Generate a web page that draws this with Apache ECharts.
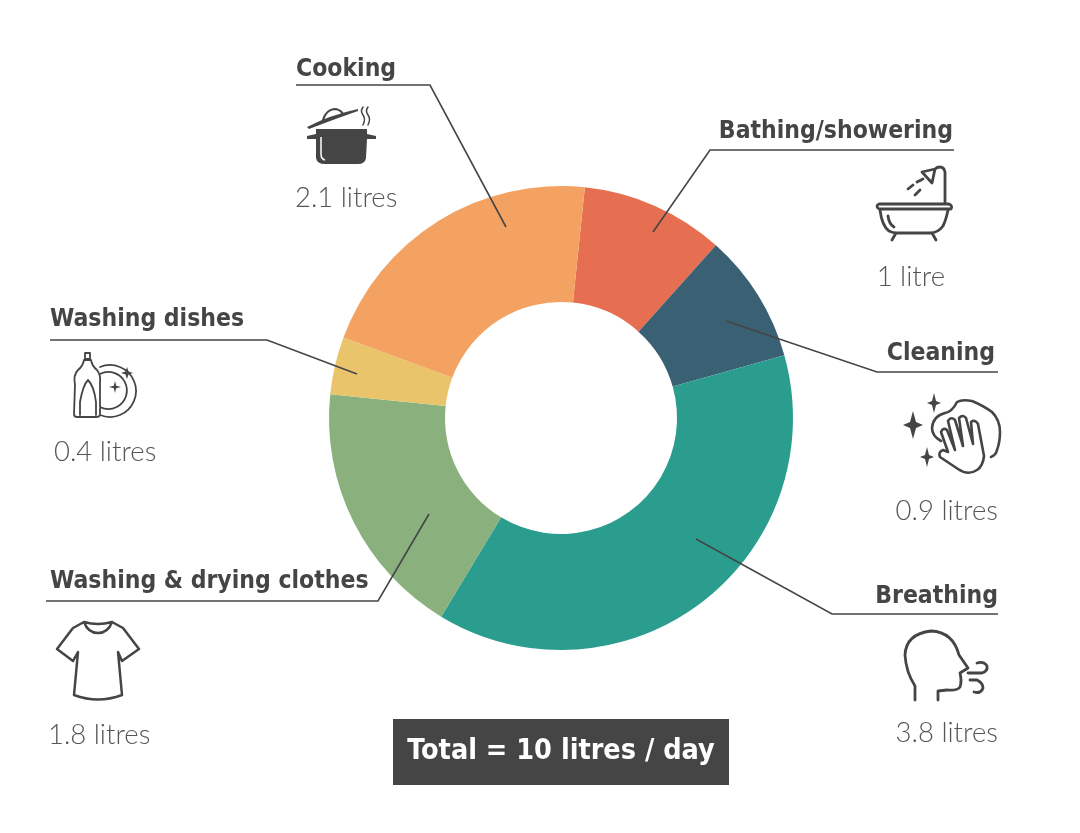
<!DOCTYPE html>
<html><head><meta charset="utf-8">
<style>html,body{margin:0;padding:0;background:#fff}#c{width:1080px;height:833px}</style>
<script src="https://cdn.jsdelivr.net/npm/echarts@6/dist/echarts.min.js"></script>
</head><body><div id="c"></div>
<script>
const categories = ['Bathing/showering','Cleaning','Breathing','Washing & drying clothes','Washing dishes','Cooking'];
const litres = [1, 0.9, 3.8, 1.8, 0.4, 2.1];
const sliceColors = ['#E76F51','#3A6073','#2A9D8F','#8AB17D','#E9C46A','#F4A261'];
const totalText = 'Total = 10 litres / day';

const INK = '#454545';
const TITLE_FONT = '"DejaVu Sans Condensed","DejaVu Sans",sans-serif';
const VALUE_FONT = 'Lato, "Open Sans", sans-serif';

const annotations = [
 {tx:953,ty:132,ta:'right',vx:945,vy:277,va:'right',line:[[954,150],[710,150],[653,232]]},
 {tx:995,ty:354,ta:'right',vx:998,vy:511,va:'right',line:[[998,372],[877,372],[726,321]]},
 {tx:998,ty:597,ta:'right',vx:998,vy:733,va:'right',line:[[998,614],[832,614],[696,539]]},
 {tx:50,ty:582,ta:'left',vx:48,vy:735,va:'left',line:[[46,601],[378,601],[429,514]]},
 {tx:50,ty:320,ta:'left',vx:54,vy:452,va:'left',line:[[50,340],[267,340],[357,374]]},
 {tx:296,ty:70,ta:'left',vx:295,vy:198,va:'left',line:[[296,85],[430,85],[506,227]]}
];

const strokeIcons = [
 // bath
 {w:2.8,d:'M879 204 L949 204 Q953 206 951 209 L879 209 Q875 206 879 204 Z M880 210 Q882 226 889 231 Q893 233 897 233 L930 233 Q938 233 943 226 Q946 220 948 210 M896 233 L892 240 M932 233 L936 240 M888 216 Q889 224 894 227 M945 204 L945 172 Q944 167 940 167 Q937 167 935 169 M922 172 L935 169 L932 183 Z M908 189 L913 185 M917 182 L923 179 M915 195 L920 190'},
 // cleaning cloth and hand
 {w:2.6,d:'M941 441 Q932 436 932 428 Q933 416 945 413 Q952 412 957 402 Q962 399 972 401 Q984 406 992 412 Q1000 420 1000 432 Q1000 442 997 450 Q996 455 991 457 M948 452 L943 450 Q938 452 940 457 L958 469 Q968 476 977 470 Q983 466 984 456 L978 424 Q975 419 971 422 L973 444 M973 444 L966 418 Q963 414 959 418 L963 446 M963 446 L955 420 Q951 416 948 421 L955 450 M955 450 L947 430 Q943 427 941 432 L948 452'},
 // head and breath
 {w:2.8,d:'M915 700 L915 686 Q906 672 905 655 Q906 634 931 631 Q953 632 959 655 L968 668 L960 673 Q962 681 960 687 Q957 691 947 690 L938 691 L938 700 M968 673 L982 673 Q988 671 987 666 Q984 661 977 663 M970 680 L977 680 Q983 683 983 688 Q981 694 974 692'},
 // bottle and plate
 {w:1.8,d:'M85 353 L90 353 L90 359 L85 359 Z M84 360 L91 360 Q92 366 97 370 Q101 375 100 383 L100 414 Q100 417 96 417 L77 417 Q74 417 74 414 L75 385 Q73 375 78 370 Q83 366 84 360 Z M80 415 L80 402 Q83 385 88 380 Q94 386 96 402 L96 415 M100 367 A26 26 0 1 1 100 415 M100 374 A18.5 18.5 0 1 1 100 407'},
 // t-shirt
 {w:2.5,d:'M84 622 L73 628 L57 649 L73 661 L78 652 L74 695 Q98 704 122 695 L118 652 L122 661 L139 649 L123 628 L112 622 Q98 626 84 622 Q88 633 98 633 Q108 633 112 622'},
 // steam and pot-lid dome
 {w:1.5,d:'M363 107 Q360 111 363 115 Q366 119 363 125 M368 107 Q365 111 368 115 Q371 119 368 125'},
 {w:2.2,d:'M323 120 Q326 110 334 109 Q340 109 343 114'}
];
const fillIcons = [
 // pot
 'M307 127 Q330 115 358 109 L358 111 Q335 119 309 129 Z M316 129 L367 129 L367 134 L376 136 L376 139 L367 139 L366 158 Q365 164 358 164 L325 164 Q317 164 316 158 L316 139 L307 139 L307 136 L316 134 Z',
 // sparkles
 'M913 411 L916 422 L923 425 L916 428 L913 439 L910 428 L903 425 L910 422 Z M934 393 L936 401 L941 403 L936 405 L934 413 L932 405 L927 403 L932 401 Z M927 447 L929 455 L934 457 L929 459 L927 467 L925 459 L920 457 L925 455 Z',
 'M127 367 L128.5 371.5 L133 373 L128.5 374.5 L127 379 L125.5 374.5 L121 373 L125.5 371.5 Z M115 381 L116.2 385.8 L121 387 L116.2 388.2 L115 393 L113.8 388.2 L109 387 L113.8 385.8 Z'
];

function iconShape(pathData, key){
  echarts.graphic.registerShape(key, echarts.graphic.extendPath(pathData, {}));
  return key;
}

const graphics = [];
categories.forEach((name, i) => {
  const a = annotations[i], v = litres[i];
  graphics.push({type:'polyline',silent:true,z:10,shape:{points:a.line},style:{stroke:INK,lineWidth:1.6,fill:null}});
  graphics.push({type:'text',silent:true,z:11,x:a.tx,y:a.ty,style:{text:name,fill:INK,font:'bold 24.5px '+TITLE_FONT,align:a.ta,verticalAlign:'middle'}});
  graphics.push({type:'text',silent:true,z:11,x:a.vx,y:a.vy,style:{text:v+(v===1?' litre':' litres'),fill:'#555',font:'300 27.5px '+VALUE_FONT,align:a.va,verticalAlign:'middle'}});
});
strokeIcons.forEach((p,i) => graphics.push({type:iconShape(p.d,'strokeIcon'+i),silent:true,z:10,style:{stroke:INK,lineWidth:p.w,fill:null,lineJoin:'round',lineCap:'round'}}));
fillIcons.forEach((p,i) => graphics.push({type:iconShape(p,'fillIcon'+i),silent:true,z:10,style:{fill:INK}}));
graphics.push({type:iconShape('M321 137 L321 154 Q321 159 325 160','potGlint'),silent:true,z:11,style:{stroke:'#fff',lineWidth:1.5,fill:null}});
graphics.push({type:'rect',silent:true,z:10,shape:{x:393,y:719,width:336,height:66},style:{fill:INK}});
graphics.push({type:'text',silent:true,z:11,x:561,y:752,style:{text:totalText,fill:'#fff',font:'bold 28.5px '+TITLE_FONT,align:'center',verticalAlign:'middle'}});

const chart = echarts.init(document.getElementById('c'),null,{renderer:'canvas'});
chart.setOption({
  animation:false,
  backgroundColor:'#fff',
  series:[{
    type:'pie',
    center:[561,418],
    radius:[116,232],
    startAngle:84.1,
    clockwise:true,
    silent:true,
    label:{show:false},
    labelLine:{show:false},
    data:categories.map((name,i)=>({name,value:litres[i],itemStyle:{color:sliceColors[i]}}))
  }],
  graphic:graphics
});
</script></body></html>
